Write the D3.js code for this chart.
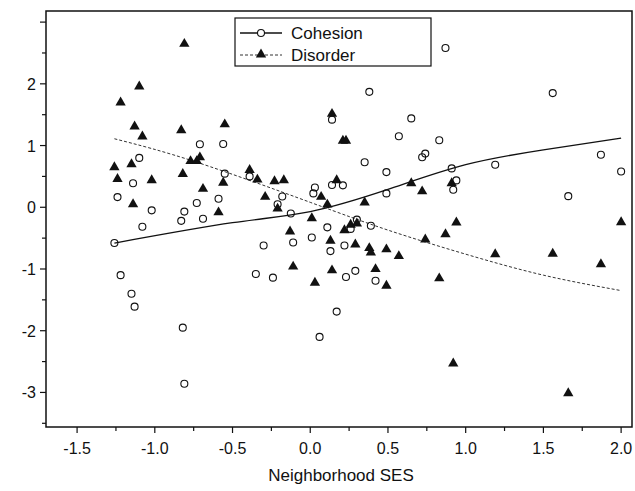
<!DOCTYPE html>
<html>
<head>
<meta charset="utf-8">
<script src="https://cdn.jsdelivr.net/npm/d3@7"></script>
<style>
  body { margin: 0; background: #fff; }
  text { font-family: "Liberation Sans", Arial, sans-serif; fill: #111; }
</style>
</head>
<body>
<svg id="chart" width="635" height="491"></svg>
<script>
// cohesion points [ses, score]
var cohesion = [
  [-1.10,0.80],[-1.14,0.39],[-1.24,0.165],[-1.02,-0.05],[-1.08,-0.315],[-0.71,1.02],[-0.56,1.025],
  [-0.55,0.545],[-0.81,-0.07],[-0.83,-0.22],[-0.73,0.07],[-0.69,-0.185],[-0.59,0.137],[-0.39,0.50],
  [-0.18,0.175],[-0.21,0.05],[-0.125,-0.10],[0.03,0.32],[0.02,0.225],[0.14,0.36],[0.14,1.42],
  [0.11,-0.325],[-1.26,-0.58],[-1.22,-1.10],[-1.15,-1.40],[-1.13,-1.61],[-0.82,-1.95],[-0.81,-2.86],
  [-0.30,-0.62],[-0.35,-1.08],[-0.24,-1.14],[-0.11,-0.57],[0.01,-0.49],[0.13,-0.71],[0.17,-1.69],
  [0.06,-2.10],[0.87,2.58],[0.38,1.87],[1.56,1.85],[0.65,1.44],[0.57,1.15],[0.83,1.085],[0.35,0.73],
  [0.72,0.81],[0.74,0.87],[0.49,0.57],[0.91,0.63],[1.19,0.69],[1.87,0.85],[2.0,0.58],[0.21,0.355],
  [0.94,0.435],[0.92,0.285],[0.49,0.225],[1.66,0.18],[0.30,-0.20],[0.39,-0.30],[0.26,-0.35],
  [0.22,-0.62],[0.23,-1.13],[0.29,-1.03],[0.42,-1.19]
];
// disorder points [ses, score]
var disorder = [
  [-0.81,2.64],[-1.10,1.95],[-1.22,1.69],[-1.13,1.30],[-1.08,1.14],[-0.83,1.24],[-0.55,1.335],
  [-1.26,0.64],[-1.15,0.69],[-1.24,0.45],[-1.02,0.43],[-1.14,0.04],[-0.77,0.74],[-0.73,0.74],
  [-0.71,0.80],[-0.82,0.53],[-0.69,0.29],[-0.56,0.39],[-0.59,-0.09],[-0.39,0.595],[-0.34,0.44],
  [-0.23,0.415],[-0.17,0.43],[-0.29,0.16],[-0.21,-0.03],[0.07,0.16],[0.11,0.035],[0.01,-0.185],
  [0.14,1.505],[-0.13,-0.40],[0.13,-0.55],[-0.11,-0.97],[0.03,-1.23],[0.14,-1.03],[0.21,1.07],
  [0.23,1.07],[0.17,0.43],[0.35,0.07],[0.65,0.38],[0.72,0.25],[0.91,0.38],[0.94,-0.255],[2.0,-0.25],
  [0.87,-0.445],[0.74,-0.53],[1.19,-0.77],[1.56,-0.76],[1.87,-0.93],[0.83,-1.16],[0.92,-2.54],
  [1.66,-3.02],[0.22,-0.38],[0.26,-0.29],[0.30,-0.27],[0.29,-0.61],[0.38,-0.67],[0.39,-0.74],
  [0.49,-0.69],[0.57,-0.80],[0.42,-1.01],[0.49,-1.28]
];
// fitted curves
var cohesionFit = [[-1.26,-0.58],[-0.5,-0.25],[0.0,-0.07],[0.5,0.29],[1.0,0.69],[1.5,0.93],[2.0,1.12]];
var disorderFit = [[-1.26,1.11],[-0.73,0.73],[0.0,0.08],[0.5,-0.37],[1.0,-0.76],[1.5,-1.10],[2.0,-1.35]];

var xTicks = [-1.5,-1.0,-0.5,0.0,0.5,1.0,1.5,2.0];
var yTicks = [-3,-2,-1,0,1,2];

var svg = d3.select("#chart");
var L = 46, R = 632, T = 11, B = 427;

var x = d3.scaleLinear().domain([-1.7, 2.07]).range([L, R]);
var y = d3.scaleLinear().domain([-3.56, 3.18]).range([B, T]);

// frame
svg.append("rect").attr("x", L).attr("y", T).attr("width", R - L).attr("height", B - T)
  .attr("fill", "none").attr("stroke", "#111").attr("stroke-width", 1.5);

// x axis
var xMinor = d3.range(-1.5, 2.01, 0.25);
svg.append("g").selectAll("line").data(xMinor).enter().append("line")
  .attr("x1", d => x(d)).attr("x2", d => x(d)).attr("y1", B)
  .attr("y2", d => B + (Math.abs(d * 2 - Math.round(d * 2)) < 1e-6 ? 6 : 4))
  .attr("stroke", "#111").attr("stroke-width", 1.2);
svg.append("g").selectAll("text").data(xTicks).enter().append("text")
  .attr("x", d => x(d)).attr("y", B + 27).attr("text-anchor", "middle")
  .attr("font-size", 16).text(d => d.toFixed(1));

// y axis
var yMinor = d3.range(-3.5, 3.01, 0.5);
svg.append("g").selectAll("line").data(yMinor).enter().append("line")
  .attr("y1", d => y(d)).attr("y2", d => y(d)).attr("x1", L)
  .attr("x2", d => L - (Number.isInteger(d) ? 6 : 4))
  .attr("stroke", "#111").attr("stroke-width", 1.2);
svg.append("g").selectAll("text").data(yTicks).enter().append("text")
  .attr("x", L - 10).attr("y", d => y(d) + 6).attr("text-anchor", "end")
  .attr("font-size", 16).text(d => String(d));

svg.append("text").attr("x", (L + R) / 2 + 2).attr("y", 481).attr("text-anchor", "middle")
  .attr("font-size", 17).text("Neighborhood SES");

// curves
var line = d3.line().x(d => x(d[0])).y(d => y(d[1])).curve(d3.curveNatural);
svg.append("path").datum(cohesionFit).attr("d", line).attr("fill", "none")
  .attr("stroke", "#111").attr("stroke-width", 1.3);
svg.append("path").datum(disorderFit).attr("d", line).attr("fill", "none")
  .attr("stroke", "#333").attr("stroke-width", 1).attr("stroke-dasharray", "3,2");

// markers
var tri = d3.symbol().type(d3.symbolTriangle).size(46);
svg.append("g").selectAll("path").data(disorder).enter().append("path")
  .attr("d", tri).attr("transform", d => "translate(" + x(d[0]) + "," + (y(d[1]) - 0.5) + ")")
  .attr("fill", "#111");
svg.append("g").selectAll("circle").data(cohesion).enter().append("circle")
  .attr("cx", d => x(d[0])).attr("cy", d => y(d[1])).attr("r", 3.5)
  .attr("fill", "none").attr("stroke", "#111").attr("stroke-width", 1.1);

// legend
var lg = svg.append("g");
lg.append("rect").attr("x", 235).attr("y", 18).attr("width", 196).attr("height", 48)
  .attr("fill", "#fff").attr("stroke", "#111").attr("stroke-width", 1.2);
lg.append("line").attr("x1", 240).attr("x2", 282).attr("y1", 33).attr("y2", 33)
  .attr("stroke", "#111").attr("stroke-width", 1.3);
lg.append("circle").attr("cx", 261).attr("cy", 33).attr("r", 3.5)
  .attr("fill", "#fff").attr("stroke", "#111").attr("stroke-width", 1.1);
lg.append("text").attr("x", 291).attr("y", 39).attr("font-size", 17).text("Cohesion");
lg.append("line").attr("x1", 240).attr("x2", 282).attr("y1", 55).attr("y2", 55)
  .attr("stroke", "#333").attr("stroke-dasharray", "3,2");
lg.append("path").attr("d", tri).attr("transform", "translate(261,54.5)").attr("fill", "#111");
lg.append("text").attr("x", 291).attr("y", 61).attr("font-size", 17).text("Disorder");
</script>
</body>
</html>
